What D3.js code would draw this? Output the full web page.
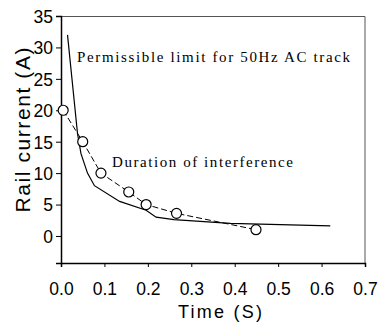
<!DOCTYPE html>
<html>
<head>
<meta charset="utf-8">
<script src="https://cdn.jsdelivr.net/npm/d3@7"></script>
<style>
  html, body { margin: 0; padding: 0; background: #fff; }
  svg { display: block; }
</style>
</head>
<body>
<div id="chart"></div>
<script>
// measured durations of interference (circles, dashed)
const durationTime = [0.005, 0.05, 0.092, 0.156, 0.196, 0.266, 0.449];
const durationCurrent = [20, 15, 10, 7, 5, 3.6, 1];

// permissible limit for 50Hz AC track (solid)
const limitTime = [0.015, 0.038, 0.046, 0.061, 0.077, 0.135, 0.196, 0.219, 0.26, 0.39, 0.62];
const limitCurrent = [32, 16.3, 13.1, 10, 8, 5.5, 4.1, 3.0, 2.6, 2.0, 1.6];

const xTicks = [0, 0.1, 0.2, 0.3, 0.4, 0.5, 0.6, 0.7];
const yTicks = [0, 5, 10, 15, 20, 25, 30, 35];

const width = 388, height = 329;
const margin = { top: 16, right: 23, bottom: 66, left: 61 };
const innerWidth = width - margin.left - margin.right;
const innerHeight = height - margin.top - margin.bottom;

const svg = d3.select('#chart')
  .append('svg')
  .attr('width', width)
  .attr('height', height);

const g = svg.append('g')
  .attr('transform', `translate(${margin.left},${margin.top})`);

const x = d3.scaleLinear().domain([0, 0.7]).range([0, innerWidth]);
const y = d3.scaleLinear().domain([-4.3, 35]).range([innerHeight, 0]);

// frame top/right
g.append('path')
  .attr('d', `M0,0.5H${innerWidth}V${innerHeight}`)
  .attr('fill', 'none')
  .attr('stroke', '#555')
  .attr('stroke-width', 1);

const xAxis = g.append('g')
  .attr('transform', `translate(0,${innerHeight})`)
  .call(d3.axisBottom(x).tickValues(xTicks).tickFormat(d3.format('.1f')).tickSizeOuter(0).tickSize(4).tickPadding(16));

const yAxis = g.append('g')
  .call(d3.axisLeft(y).tickValues(yTicks).tickFormat(d3.format('d')).tickSizeOuter(0).tickSize(5).tickPadding(3));

[xAxis, yAxis].forEach(a => {
  a.select('.domain').attr('stroke', '#000').attr('stroke-width', 1.5);
  a.selectAll('.tick line').attr('stroke', '#000').attr('stroke-width', 1);
  a.selectAll('.tick text')
    .attr('fill', '#000')
    .style('font-family', '"Liberation Sans", Arial, sans-serif')
    .style('font-size', '17.5px');
});
yAxis.selectAll('.tick text').attr('dy', '0.36em');

// solid limit line
const line = d3.line().x(d => x(d[0])).y(d => y(d[1]));
g.append('path')
  .datum(d3.zip(limitTime, limitCurrent))
  .attr('d', line)
  .attr('fill', 'none')
  .attr('stroke', '#000')
  .attr('stroke-width', 1.2);

// dashed duration line + circles
const durData = d3.zip(durationTime, durationCurrent);
g.append('path')
  .datum(durData)
  .attr('d', line)
  .attr('fill', 'none')
  .attr('stroke', '#000')
  .attr('stroke-width', 1)
  .attr('stroke-dasharray', '6,3');

g.selectAll('.pt')
  .data(durData)
  .enter()
  .append('circle')
  .attr('class', 'pt')
  .attr('cx', d => x(d[0]))
  .attr('cy', d => y(d[1]))
  .attr('r', 5)
  .attr('fill', '#fff')
  .attr('stroke', '#000')
  .attr('stroke-width', 1.2);

// annotations
const serif = '"Liberation Serif", "Times New Roman", serif';
svg.append('text')
  .attr('x', 77).attr('y', 62)
  .attr('textLength', 273).attr('lengthAdjust', 'spacing')
  .style('font-family', serif).style('font-size', '15px')
  .text('Permissible limit for 50Hz AC track');

svg.append('text')
  .attr('x', 112).attr('y', 167)
  .attr('textLength', 181).attr('lengthAdjust', 'spacing')
  .style('font-family', serif).style('font-size', '15px')
  .text('Duration of interference');

// axis titles
const sans = '"Liberation Sans", Arial, sans-serif';
svg.append('text')
  .attr('x', 220).attr('y', 318)
  .attr('text-anchor', 'middle')
  .attr('textLength', 84).attr('lengthAdjust', 'spacing')
  .style('font-family', sans).style('font-size', '18px')
  .text('Time (S)');

svg.append('text')
  .attr('transform', 'translate(30,130) rotate(-90)')
  .attr('text-anchor', 'middle')
  .attr('textLength', 165).attr('lengthAdjust', 'spacing')
  .style('font-family', sans).style('font-size', '21px')
  .text('Rail current (A)');
</script>
</body>
</html>
